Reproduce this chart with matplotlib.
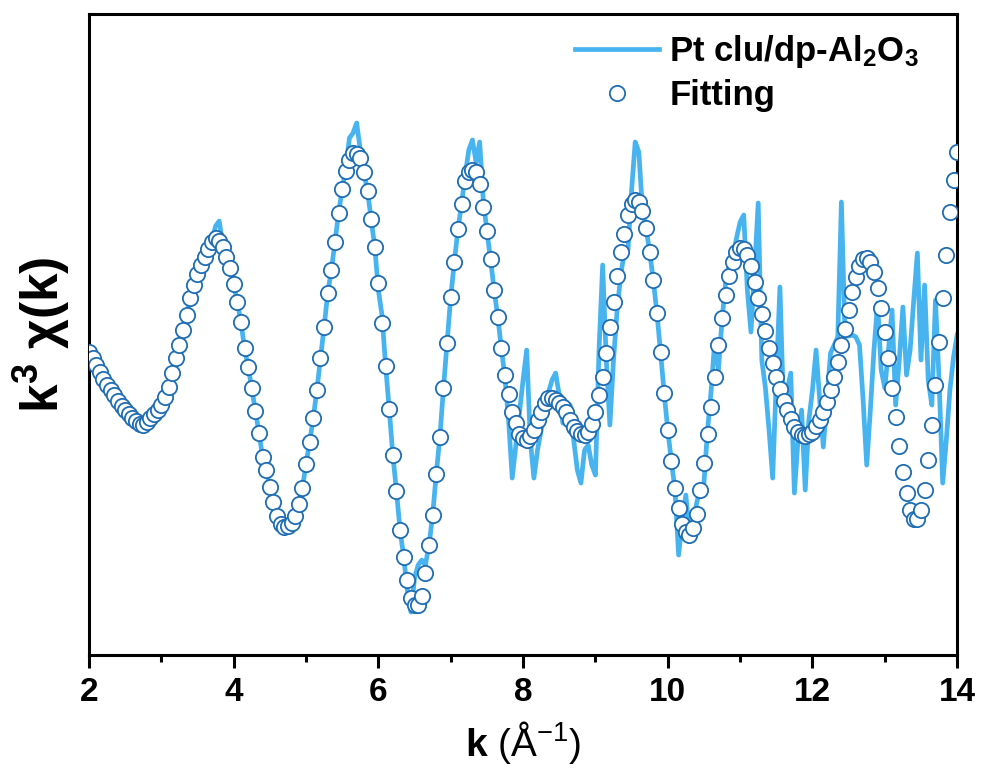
import numpy as np
import matplotlib
matplotlib.use('Agg')
import matplotlib.pyplot as plt

plt.rcParams['font.family'] = ['Liberation Sans', 'DejaVu Sans']
plt.rcParams['mathtext.fontset'] = 'custom'
plt.rcParams['mathtext.rm'] = 'Liberation Sans'
plt.rcParams['mathtext.bf'] = 'Liberation Sans:bold'
plt.rcParams['mathtext.default'] = 'regular'

# k grid (A^-1), 0.05 step
k = np.round(np.arange(2.0, 14.0 + 1e-9, 0.05), 2)

# measured k^3 chi(k), arbitrary units
chi_data = [
    48, 42, 35, 28, 21, 15, 10, 5, -1, -6,
    -10, -14, -18, -21, -24, -25, -22, -18, -14, -10,
    -5, 3, 13, 27, 42, 55, 70, 85, 102, 115,
    126, 135, 143, 151, 160, 174, 179, 155, 143, 132,
    116, 98, 78, 52, 33, 12, -11, -33, -57, -70,
    -87, -102, -116, -124, -127, -126, -123, -116, -104, -88,
    -64, -42, -18, 10, 42, 73, 107, 130, 158, 187,
    211, 232, 262, 267, 277, 250, 228, 209, 181, 153,
    110, 85, 34, -9, -55, -91, -130, -157, -190, -212,
    -178, -165, -160, -165, -145, -115, -74, -37, 12, 57,
    103, 138, 171, 196, 225, 250, 260, 238, 258, 200,
    169, 141, 110, 83, 52, 22, -20, -78, -45, -12,
    20, 50, -40, -78, -50, -30, -10, 7, 20, 27,
    5, -23, -13, -5, -40, -70, -83, -50, -45, -65,
    -75, 50, 135, 40, -25, 40, 90, 125, 148, 150,
    210, 258, 248, 190, 172, 148, 120, 87, 48, 7,
    -30, -61, -90, -155, -120, -95, -135, -120, -103, -88,
    -83, -30, 10, 60, 30, 80, 118, 135, 143, 162,
    178, 185, 110, 68, 130, 197, 40, 12, -30, -78,
    20, 113, -7, 10, 27, -93, -40, -10, -90, -20,
    10, 50, 0, -47, 0, 47, 55, 63, 198, 64,
    64, 65, 63, 55, 0, -65, -10, 50, 97, 30,
    12, 50, 90, -5, 40, 93, 25, 50, 100, 147,
    40, 115, 20, -5, 100, 20, -83, -40, 10, 43,
    65,
]

# fitted k^3 chi(k)
chi_fit = [
    48, 42, 35, 28, 21, 15, 10, 5, -1, -6,
    -10, -14, -18, -21, -24, -25, -22, -18, -14, -10,
    -5, 3, 13, 27, 42, 55, 70, 85, 102, 115,
    126, 135, 143, 151, 158, 162, 159, 153, 143, 132,
    116, 98, 78, 52, 33, 12, -11, -33, -57, -70,
    -87, -102, -116, -124, -127, -126, -123, -116, -104, -88,
    -64, -42, -18, 10, 42, 73, 107, 130, 158, 187,
    211, 229, 240, 247, 246, 242, 228, 209, 181, 153,
    117, 77, 34, -9, -55, -91, -130, -157, -180, -198,
    -205, -205, -196, -173, -145, -115, -74, -37, 12, 57,
    103, 138, 171, 196, 219, 228, 230, 228, 216, 193,
    169, 141, 110, 83, 52, 25, 6, -12, -23, -34,
    -38, -40, -36, -30, -20, -12, -3, 2, 2, 0,
    -3, -7, -12, -20, -27, -31, -34, -35, -32, -24,
    -12, 5, 23, 47, 73, 98, 124, 148, 166, 185,
    196, 200, 198, 189, 172, 148, 120, 87, 48, 7,
    -30, -61, -88, -108, -124, -132, -135, -128, -114, -90,
    -63, -34, -7, 23, 55, 82, 105, 124, 138, 148,
    152, 151, 145, 134, 118, 102, 86, 69, 52, 37,
    23, 11, -1, -10, -19, -27, -32, -35, -36, -34,
    -32, -26, -20, -12, -2, 10, 23, 38, 55, 71,
    90, 108, 123, 134, 141, 142, 138, 128, 112, 92,
    68, 42, 12, -17, -46, -72, -93, -110, -119, -119,
    -110, -90, -60, -25, 15, 58, 102, 145, 188, 220,
    248,
]

fig = plt.figure(figsize=(9.81, 7.78), dpi=100)
ax = fig.add_axes([0.0907, 0.158, 0.885, 0.824])

ax.plot(k, chi_data, color='#47B4F0', lw=3.4, zorder=2,
        label=r'Pt clu/dp-Al$_2$O$_3$')
ax.plot(k, chi_fit, 'o', ms=11, mfc='white', mec='#1F6DB3', mew=1.3,
        zorder=3, label='Fitting')

ax.set_xlim(2, 14)
ax.set_ylim(-255, 386)
ax.set_yticks([])
ax.set_xticks(range(2, 15, 2))
ax.set_xticks(range(3, 14, 2), minor=True)
ax.tick_params(axis='x', which='major', direction='out', length=9, width=2.2,
               labelsize=24, pad=7)
ax.tick_params(axis='x', which='minor', direction='out', length=5, width=2.2)
plt.setp(ax.get_xticklabels(), fontweight='bold')
for s in ax.spines.values():
    s.set_linewidth(2.2)

ax.set_xlabel(r'$\mathbf{k}$ (Å$^{-1}$)', fontsize=28, labelpad=8)
ax.set_ylabel(r'k$^3$ χ(k)', fontsize=37, fontweight='bold', labelpad=12)

ax.legend(loc='upper right', bbox_to_anchor=(0.972, 0.992), frameon=False,
          prop={'weight': 'bold', 'size': 25},
          handlelength=2.4, handletextpad=0.3, labelspacing=0.25,
          borderaxespad=0.0)

fig.savefig('out.png', dpi=100)
